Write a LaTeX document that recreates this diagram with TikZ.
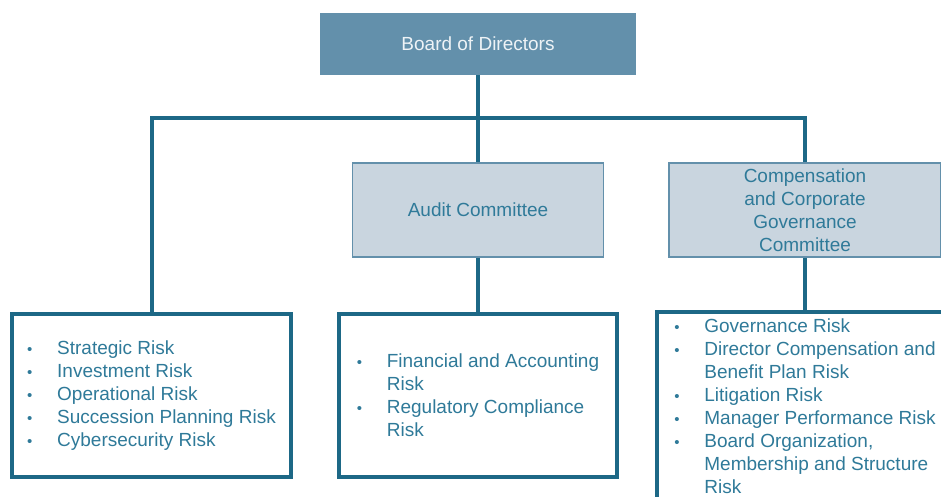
\documentclass[tikz,border=0pt]{standalone}
\usepackage{fontspec}
\setmainfont{Liberation Sans}
\usepackage{tikz}
\usetikzlibrary{positioning}
\definecolor{bleu}{HTML}{6390AB}
\definecolor{bleuclair}{HTML}{C9D5DF}
\definecolor{trait}{HTML}{1D6886}
\definecolor{texte}{HTML}{2F7A99}
\definecolor{blanc}{HTML}{EEF3F6}
\newcommand{\puce}{\makebox[30pt][l]{\fontsize{15}{15}\selectfont\textbullet}}
\newcommand{\suite}{\hspace*{30pt}}

\begin{document}
\begin{tikzpicture}[x=1pt,y=-1pt,
  every node/.style={font=\fontsize{19}{23}\selectfont,inner sep=0pt},
  conseil/.style={fill=bleu,text=blanc,minimum width=316pt,minimum height=62pt},
  comite/.style={draw=bleu,line width=1.5pt,fill=bleuclair,text=texte,align=center,minimum height=94pt},
  liste/.style={draw=trait,line width=4pt,fill=white,text=texte,align=left},
  lien/.style={draw=trait,line width=4pt}]
  \useasboundingbox (0,0) rectangle (941,497);
  \node[conseil] (conseil) at (478,44) {Board of Directors};
  \node[comite,minimum width=251pt] (audit) at (478,210) {Audit Committee};
  \node[comite,minimum width=272pt] (remun) at (805,210) {Compensation\\and Corporate\\Governance\\Committee};
  \node[liste,minimum width=279pt,minimum height=163pt] (risques) at (151.5,395.5) {%
    \puce Strategic Risk\\
    \puce Investment Risk\\
    \puce Operational Risk\\
    \puce Succession Planning Risk\\
    \puce Cybersecurity Risk};
  \node[liste,minimum width=278pt,minimum height=163pt] (raudit) at (478,395.5) {%
    \puce Financial and Accounting\\
    \suite Risk\\
    \puce Regulatory Compliance\\
    \suite Risk};
  \node[liste,minimum width=296pt,minimum height=188pt] (rremun) at (805,406) {%
    \puce Governance Risk\\
    \puce Director Compensation and\\
    \suite Benefit Plan Risk\\
    \puce Litigation Risk\\
    \puce Manager Performance Risk\\
    \puce Board Organization,\\
    \suite Membership and Structure\\
    \suite Risk};
  \coordinate (noeud) at (478,118);
  \draw[lien] (conseil) -- (noeud);
  \draw[lien] (noeud) -- (audit);
  \draw[lien] (risques) |- (noeud) -| (remun);
  \draw[lien] (audit) -- (raudit);
  \draw[lien] (remun) -- (rremun);
\end{tikzpicture}
\end{document}
